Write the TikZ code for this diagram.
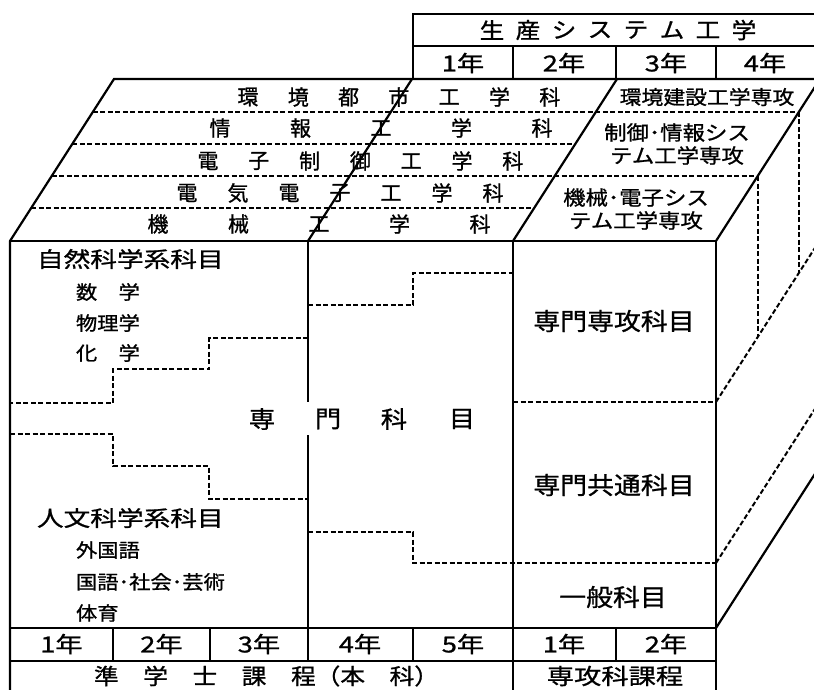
\documentclass[tikz,border=0pt]{standalone}
\usepackage{fontspec}
\setmainfont{Noto Sans CJK JP}
\newfontfamily\jpA[FakeBold=1]{Noto Sans CJK JP}
\newfontfamily\jpB[FakeStretch=1.12,FakeBold=1]{Noto Sans CJK JP}
\newfontfamily\jpC[FakeStretch=1.24,FakeBold=1]{Noto Sans CJK JP}
\newcommand\fsz[1]{\fontsize{#1}{#1}\selectfont}
\begin{document}
\begin{tikzpicture}[x=1pt,y=-1pt,
  sl/.style={line width=2.2pt},
  dl/.style={line width=2pt,dash pattern=on 5pt off 2.5pt},
  lbl/.style={inner sep=0pt,outer sep=0pt},
  tops/.style={lbl,font=\jpA\fsz{21}},
  hdr/.style={lbl,font=\jpB\fsz{22}},
  yr/.style={lbl,font=\jpC\fsz{22}},
  big/.style={lbl,font=\jpC\fsz{21.5},anchor=west},
  sub/.style={lbl,font=\jpB\fsz{19},anchor=west},
  mid/.style={lbl,font=\jpB\fsz{24}},
  sen/.style={lbl,font=\jpB\fontsize{20}{23}\selectfont,align=center},
]
\clip (0,0) rectangle (814,690);
% ---------- solid outline ----------
\draw[sl] (10,690) -- (10,241) -- (114,79) -- (830,79);
\draw[sl] (10,241) -- (716,241);
\draw[sl] (308,241) -- (412,79);
\draw[sl] (513,241) -- (617,79);
\draw[sl] (716,241) -- (820,79);
\draw[sl] (716,241) -- (716,690);
\draw[sl] (513,241) -- (513,690);
\draw[sl] (308,241) -- (308,402);
\draw[sl] (308,435) -- (308,661);
\draw[sl] (10,628) -- (716,628);
\draw[sl] (10,661) -- (716,661);
\foreach \xx in {113,210,413,616} \draw[sl] (\xx,628) -- (\xx,661);
% header box
\draw[sl] (413,79) -- (413,14) -- (830,14);
\draw[sl] (413,46) -- (830,46);
\foreach \xx in {513,616,716} \draw[sl] (\xx,46) -- (\xx,79);
% right side diagonals
\draw[sl] (716,628) -- ++(128.4,-200);
\draw[dl] (716,563) -- ++(128.4,-200);
\draw[dl] (716,402) -- ++(128.4,-200);
\draw[dl] (798.8,112) -- (798.8,273);
\draw[dl] (757.7,176) -- (757.7,337);
% top face dashed rows
\draw[dl] (92.8,112) -- (798.8,112);
\draw[dl] (72.3,144) -- (575.3,144);
\draw[dl] (51.7,176) -- (757.7,176);
\draw[dl] (31.2,208) -- (534.2,208);
% front dashed staircases
\draw[dl] (308,338) -- (209,338) -- (209,369) -- (113,369) -- (113,403) -- (10,403);
\draw[dl] (10,434) -- (113,434) -- (113,466) -- (209,466) -- (209,499) -- (308,499);
\draw[dl] (308,305) -- (413,305) -- (413,273) -- (513,273);
\draw[dl] (308,532) -- (413,532) -- (413,563) -- (716,563);
\draw[dl] (513,402) -- (716,402);
% ---------- header text ----------
\foreach \c [count=\i from 0] in {生,産,シ,ス,テ,ム,工,学}
  \node[hdr] (h\i) at ({492+36*\i},30) {\c};
\node[yr] (hy1) at (463,63) {1年};
\node[yr] (hy2) at (564,63) {2年};
\node[yr] (hy3) at (666,63) {3年};
\node[yr] (hy4) at (765,63) {4年};
% ---------- top face rows ----------
\foreach \c [count=\i from 0] in {環,境,都,市,工,学,科}
  \node[tops] (ra\i) at ({248+50.3*\i},97) {\c};
\foreach \c [count=\i from 0] in {情,報,工,学,科}
  \node[tops] (rb\i) at ({220+80.5*\i},128) {\c};
\foreach \c [count=\i from 0] in {電,子,制,御,工,学,科}
  \node[tops] (rc\i) at ({208+50.8*\i},161) {\c};
\foreach \c [count=\i from 0] in {電,気,電,子,工,学,科}
  \node[tops] (rd\i) at ({187+51*\i},193) {\c};
\foreach \c [count=\i from 0] in {機,械,工,学,科}
  \node[tops] (re\i) at ({158+80.5*\i},224) {\c};
\node[lbl,font=\jpB\fsz{19.5}] (kankyo) at (707,97) {環境建設工学専攻};
\node[sen] (seigyo) at (677,144) {制御･情報シス\\テム工学専攻};
\node[sen] (kikai) at (636,209) {機械･電子シス\\テム工学専攻};
% ---------- front face ----------
\node[big] (shizen) at (37,259) {自然科学系科目};
\node[sub] (sugaku) at (76,292) {数　学};
\node[sub] (butsuri) at (76,323) {物理学};
\node[sub] (kagaku) at (76,353) {化　学};
\node[big] (jinbun) at (37,518) {人文科学系科目};
\node[sub] (gaikoku) at (76,550) {外国語};
\node[sub] (kokugo) at (76,582) {国語･社会･芸術};
\node[sub] (taiiku) at (76,613) {体育};
\node[lbl,font=\jpB\fsz{23.5}] (sm1) at (262,419) {専};
\node[lbl,font=\jpB\fsz{23.5}] (sm2) at (328,419) {門};
\node[lbl,font=\jpB\fsz{23.5}] (sm3) at (394,419) {科};
\node[lbl,font=\jpB\fsz{23.5}] (sm4) at (462,419) {目};
\node[mid] (senkou) at (614,321) {専門専攻科目};
\node[mid] (kyotsu) at (614,485) {専門共通科目};
\node[mid] (ippan) at (613,597) {一般科目};
% ---------- bottom rows ----------
\node[yr] (by1) at (61.5,644) {1年};
\node[yr] (by2) at (161.5,644) {2年};
\node[yr] (by3) at (259,644) {3年};
\node[yr] (by4) at (360,644) {4年};
\node[yr] (by5) at (463,644) {5年};
\node[yr] (by6) at (564,644) {1年};
\node[yr] (by7) at (666,644) {2年};
\node[lbl,font=\jpB\fsz{22},anchor=west] (jun) at (94,676) {準　学　士　課　程（本　科）};
\node[yr] (senkoka) at (615,676) {専攻科課程};
\end{tikzpicture}
\end{document}
